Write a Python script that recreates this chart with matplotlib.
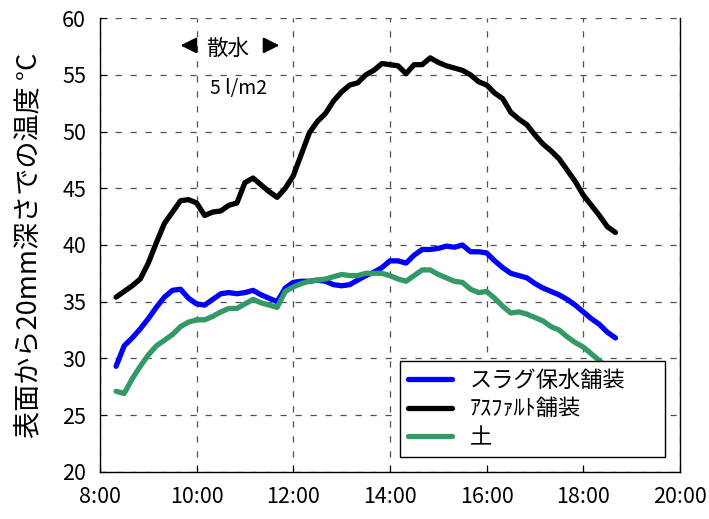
import numpy as np
import matplotlib
matplotlib.use("Agg")
import matplotlib.pyplot as plt

plt.rcParams['font.family'] = ['Noto Sans CJK JP', 'DejaVu Sans']

# time of day in hours, 10 min steps from 8:20 to 18:40
t = np.arange(8 * 60 + 20, 18 * 60 + 41, 10) / 60.0

slag = [29.3, 31.1, 31.8, 32.6, 33.5, 34.5, 35.4, 36.0, 36.1, 35.3,
        34.8, 34.7, 35.2, 35.7, 35.8, 35.7, 35.8, 36.0, 35.6, 35.3,
        35.0, 36.2, 36.7, 36.8, 36.8, 36.9, 36.8, 36.5, 36.4, 36.5,
        36.9, 37.3, 37.6, 38.0, 38.6, 38.6, 38.4, 39.1, 39.6, 39.6,
        39.7, 39.9, 39.8, 40.0, 39.4, 39.4, 39.3, 38.6, 38.0, 37.5,
        37.3, 37.1, 36.6, 36.2, 35.9, 35.6, 35.2, 34.7, 34.1, 33.5,
        33.0, 32.3, 31.8]

asphalt = [35.4, 35.9, 36.4, 37.0, 38.4, 40.2, 41.9, 42.9, 43.9, 44.0,
           43.7, 42.6, 42.9, 43.0, 43.5, 43.7, 45.5, 45.9, 45.3, 44.7,
           44.2, 45.0, 46.1, 48.0, 49.9, 50.9, 51.6, 52.7, 53.5, 54.1,
           54.3, 55.0, 55.4, 56.0, 55.9, 55.8, 55.1, 55.9, 55.9, 56.5,
           56.1, 55.8, 55.6, 55.4, 55.0, 54.4, 54.1, 53.4, 52.9, 51.7,
           51.1, 50.6, 49.7, 48.9, 48.3, 47.6, 46.6, 45.6, 44.4, 43.5,
           42.6, 41.6, 41.1]

soil = [27.1, 26.9, 28.2, 29.3, 30.3, 31.1, 31.6, 32.1, 32.8, 33.2,
        33.4, 33.4, 33.7, 34.1, 34.4, 34.4, 34.8, 35.2, 34.9, 34.7,
        34.5, 35.9, 36.3, 36.6, 36.8, 36.9, 37.0, 37.2, 37.4, 37.3,
        37.3, 37.5, 37.5, 37.5, 37.3, 37.0, 36.8, 37.3, 37.8, 37.8,
        37.4, 37.1, 36.8, 36.7, 36.1, 35.8, 35.9, 35.3, 34.6, 34.0,
        34.1, 33.9, 33.6, 33.3, 32.8, 32.5, 31.9, 31.4, 31.0, 30.4,
        29.8, 29.2, 28.6]

xticks = [8, 10, 12, 14, 16, 18, 20]
xticklabels = ["8:00", "10:00", "12:00", "14:00", "16:00", "18:00", "20:00"]

fig = plt.figure(figsize=(7.09, 5.19), dpi=100)
ax = fig.add_axes([0.141, 0.091, 0.818, 0.874])

ax.plot(t, slag, color="#0000ff", lw=3.8, label="スラグ保水舗装",
        solid_capstyle="round", solid_joinstyle="round")
ax.plot(t, asphalt, color="black", lw=3.8, label="ｱｽﾌｧﾙﾄ舗装",
        solid_capstyle="round", solid_joinstyle="round")
ax.plot(t, soil, color="#339966", lw=3.8, label="土",
        solid_capstyle="round", solid_joinstyle="round")

ax.set_xlim(8, 20)
ax.set_ylim(20, 60)
ax.set_xticks(xticks)
ax.set_xticklabels(xticklabels)
ax.set_yticks(range(20, 61, 5))
ax.tick_params(direction="in", labelsize=15.5, length=5, pad=10)
ax.set_ylabel("表面から20mm深さでの温度 °C", fontsize=19.5, labelpad=14)

ax.grid(True, color="#505050", lw=0.9, ls=(0, (5, 7)))
ax.spines["top"].set_visible(False)
for s in ["left", "bottom", "right"]:
    ax.spines[s].set_linewidth(1.0)

# sprinkling annotation
arrow = dict(arrowstyle="-|>", color="black", lw=1.5, mutation_scale=24)
ax.annotate("", xy=(9.61, 57.6), xytext=(10.0, 57.6), arrowprops=arrow)
ax.annotate("", xy=(11.77, 57.6), xytext=(11.35, 57.6), arrowprops=arrow)
ax.text(10.64, 57.3, "散水", fontsize=15.5, ha="center", va="center")
ax.text(10.86, 53.8, "5 l/m2", fontsize=14, ha="center", va="center")

leg = ax.legend(loc="lower left", bbox_to_anchor=(0.517, 0.033, 0.457, 0.24),
                mode="expand", fontsize=16, handlelength=2.0,
                fancybox=False, framealpha=1, edgecolor="black",
                borderaxespad=0, labelspacing=0.25, borderpad=0.35)
leg.get_frame().set_linewidth(1.0)

fig.savefig("out.png", dpi=100)
